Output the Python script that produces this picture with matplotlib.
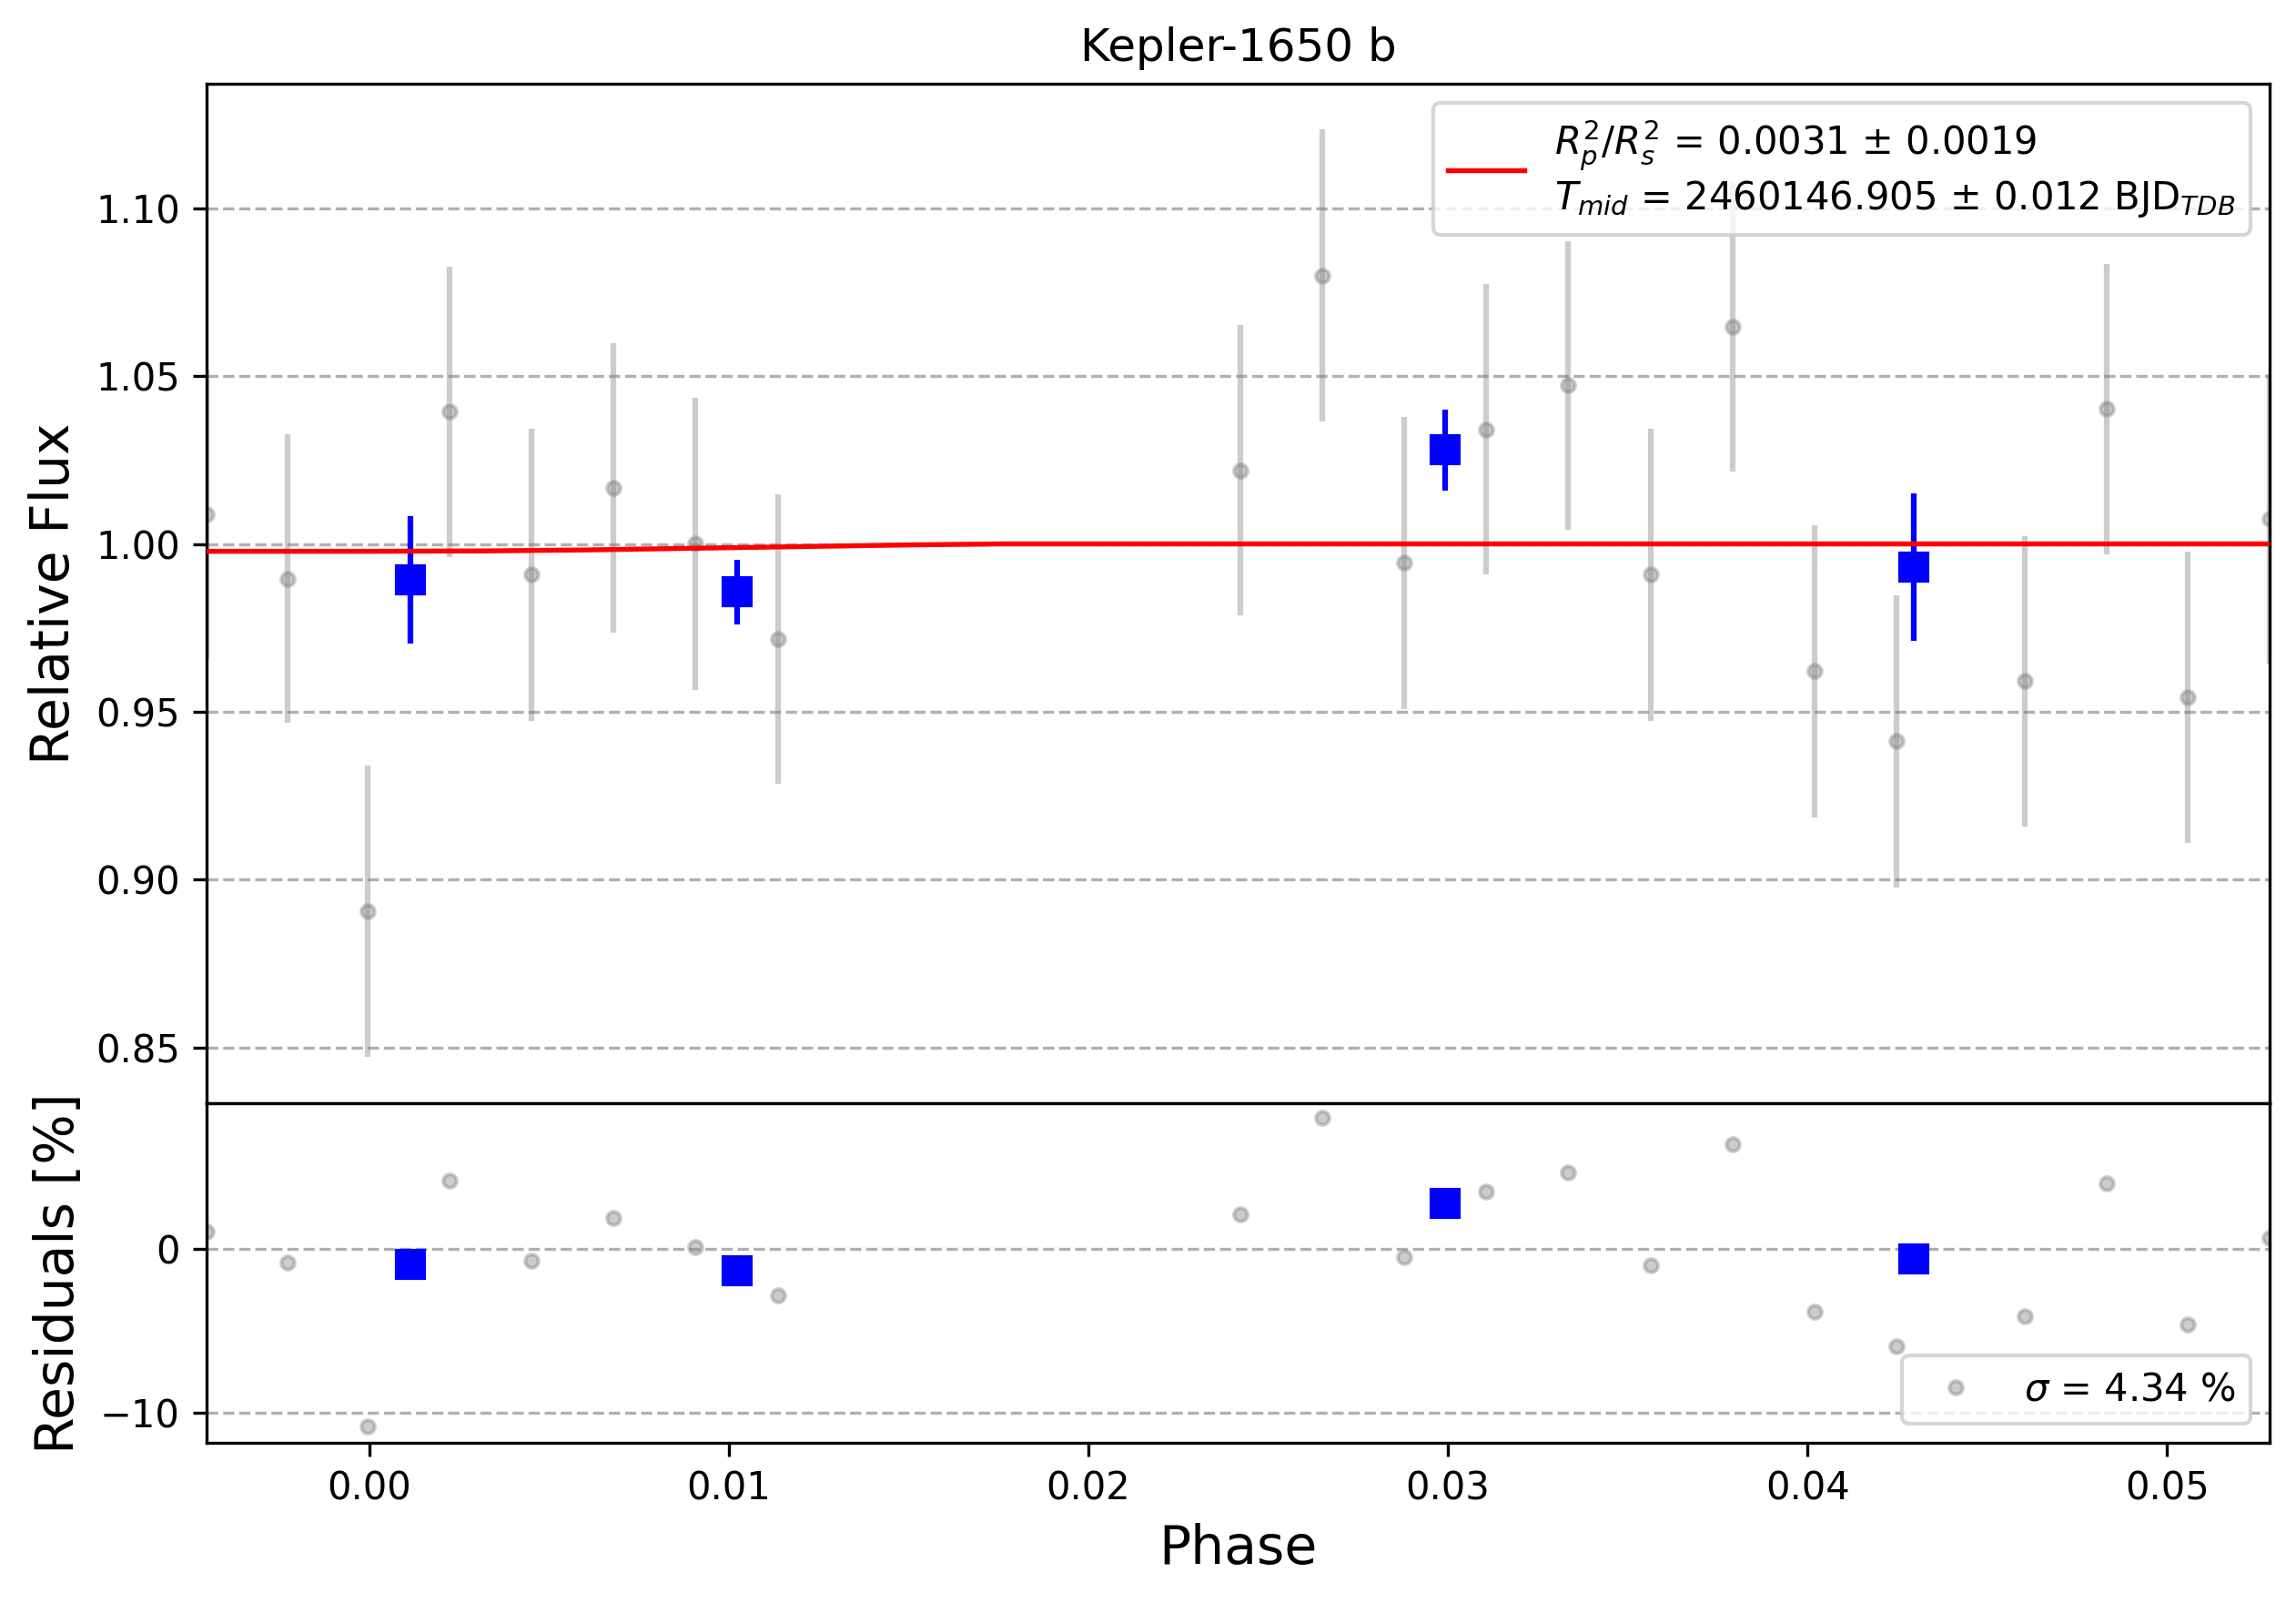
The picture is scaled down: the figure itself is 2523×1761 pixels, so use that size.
import numpy as np
import matplotlib
matplotlib.use('Agg')
import matplotlib.pyplot as plt

# unbinned data (phase, relative flux, error, residual in %)
phase = [-0.00452, -0.00228, -0.00005, 0.00224, 0.00452, 0.00680, 0.00908, 0.01136,
         0.02423, 0.02651, 0.02879, 0.03107, 0.03335, 0.03563, 0.03791, 0.04019,
         0.04247, 0.04605, 0.04833, 0.05057, 0.05285]
flux = [1.0088, 0.9896, 0.8906, 1.0394, 0.9909, 1.0167, 1.0001, 0.9717,
        1.0219, 1.0799, 0.9944, 1.0341, 1.0472, 0.9909, 1.0647, 0.9621,
        0.9412, 0.9591, 1.0402, 0.9543, 1.0075]
flux_err = [0.043, 0.043, 0.0435, 0.0432, 0.0435, 0.043, 0.0435, 0.0432,
            0.0432, 0.0435, 0.0435, 0.0432, 0.043, 0.0435, 0.0432, 0.0435,
            0.0435, 0.0432, 0.0432, 0.0435, 0.0432]
resid = [1.07, -0.8, -10.8, 4.2, -0.7, 1.9, 0.1, -2.8,
         2.1, 8.0, -0.5, 3.5, 4.7, -1.0, 6.4, -3.8,
         -5.9, -4.1, 4.0, -4.6, 0.7]

# binned data
bin_phase = [0.00114, 0.01022, 0.02993, 0.04296]
bin_flux = [0.9892, 0.9857, 1.0280, 0.9931]
bin_err = [0.019, 0.0096, 0.012, 0.022]
bin_resid = [-0.9, -1.3, 2.8, -0.6]

# transit model
model_phase = [-0.00452, 0.000, 0.003, 0.006, 0.009, 0.012, 0.015, 0.0175, 0.05285]
model_flux = [0.9978, 0.9978, 0.9979, 0.9982, 0.9987, 0.9992, 0.9997, 1.0, 1.0]

label_fit = (r'$R_{p}^{2}/R_{s}^{2}$ = 0.0031 ± 0.0019' + '\n' +
             r'$T_{mid}$ = 2460146.905 ± 0.012 BJD$_{TDB}$')
label_std = r'$\sigma$ = 4.34 %'

fig = plt.figure(figsize=(2523 / 300, 1761 / 300), dpi=300)
ax1 = fig.add_axes([0.0900, 0.3118, 0.8985, 0.6360])
ax2 = fig.add_axes([0.0900, 0.1000, 0.8985, 0.2118], sharex=ax1)

ax1.errorbar(phase, flux, yerr=flux_err, fmt='o', color='gray', alpha=0.4, ms=3.5, zorder=2)
ax1.errorbar(bin_phase, bin_flux, yerr=bin_err, fmt='s', color='blue', ms=7, zorder=3)
ax1.plot(model_phase, model_flux, 'r-', lw=1.3, label=label_fit, zorder=4)
ax1.set_ylim(0.8334, 1.1371)
ax1.set_xlim(min(phase), max(phase))
ax1.set_ylabel('Relative Flux', fontsize=14)
ax1.set_title('Kepler-1650 b', fontsize=12)
ax1.grid(True, axis='y', ls='--', color='#b0b0b0', lw=0.8)
ax1.legend(loc='upper right', fontsize=10)
plt.setp(ax1.get_xticklabels(), visible=False)

ax2.plot(phase, resid, 'o', color='gray', alpha=0.4, ms=3.5, label=label_std, zorder=2)
ax2.plot(bin_phase, bin_resid, 's', color='blue', ms=7, zorder=3)
ax2.set_ylim(-11.8, 8.9)
ax2.set_yticks([-10, 0])
ax2.set_xticks([0.0, 0.01, 0.02, 0.03, 0.04, 0.05])
ax2.set_xlim(min(phase), max(phase))
ax2.set_xlabel('Phase', fontsize=14)
ax2.set_ylabel('Residuals [%]', fontsize=14)
ax2.grid(True, axis='y', ls='--', color='#b0b0b0', lw=0.8)
ax2.legend(loc='lower right', fontsize=10)

fig.savefig('out.png', dpi=300)
